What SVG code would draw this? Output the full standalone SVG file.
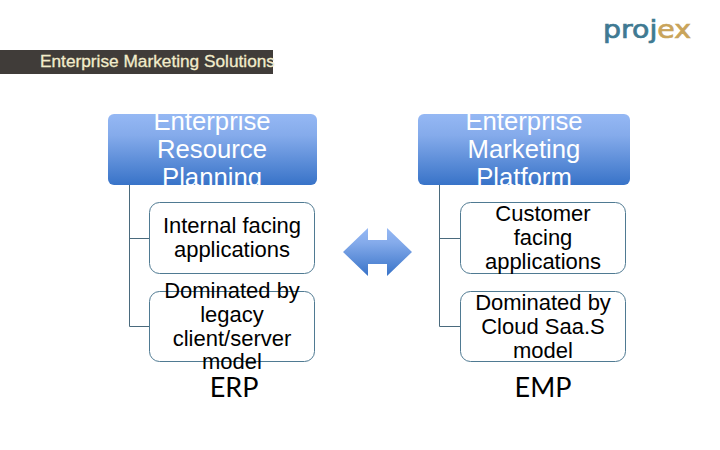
<svg xmlns="http://www.w3.org/2000/svg" width="720" height="450" viewBox="0 0 720 450">
<style>
text{font-family:"Liberation Sans",Arial,sans-serif;text-anchor:middle}
.head{font-size:25.700px;fill:#fff}
.body{font-size:22px;fill:#000}
.big{font-family:Lato,"Open Sans",sans-serif;font-size:27px;fill:#000}
.box{fill:#fff;stroke:#4f7a92;stroke-width:1}
.hbox{fill:url(#blue)}
.conn{fill:none;stroke:#4a6a7d;stroke-width:1}
</style>
<defs>
<linearGradient id="blue" x1="0" y1="0" x2="0" y2="1"><stop offset="0" stop-color="#95b8f4"/><stop offset="0.3" stop-color="#85abeb"/><stop offset="1" stop-color="#3873c8"/></linearGradient>
<clipPath id="c1"><rect x="108" y="114" width="209" height="71"/></clipPath>
<clipPath id="c2"><rect x="418" y="114" width="212" height="71"/></clipPath>
</defs>
<g id="title-bar">
<rect x="0" y="50" width="273" height="24" fill="#403c39"/>
<text x="40" y="66.500" style="text-anchor:start;font-size:17px;fill:#f2eccb;stroke:#f2eccb;stroke-width:.3" textLength="235" lengthAdjust="spacingAndGlyphs" transform="translate(0 0)">Enterprise Marketing Solutions</text>
</g>
<g id="logo">
<text x="603" y="38" style="text-anchor:start;font-family:'DejaVu Sans',sans-serif;font-size:24px;stroke-width:.7" textLength="88" lengthAdjust="spacingAndGlyphs"><tspan fill="#3f7a92" stroke="#3f7a92">proj</tspan><tspan fill="#c9a45a" stroke="#c9a45a">ex</tspan></text>
</g>
<g id="connectors">
<path class="conn" d="M129.500 185V326.500H150M129.500 238.500H150"/>
<path class="conn" d="M439.500 185V326.500H460M439.500 238.500H460"/>
</g>
<g id="erp-head">
<rect class="hbox" x="108" y="114" width="209" height="71" rx="6"/>
<g clip-path="url(#c1)"><text class="head" x="212" y="130">Enterprise</text><text class="head" x="212" y="158">Resource</text><text class="head" x="212" y="186">Planning</text></g>
</g>
<g id="emp-head">
<rect class="hbox" x="418" y="114" width="212" height="71" rx="6"/>
<g clip-path="url(#c2)"><text class="head" x="524" y="130">Enterprise</text><text class="head" x="524" y="158">Marketing</text><text class="head" x="524" y="186">Platform</text></g>
</g>
<g id="erp-internal">
<rect class="box" x="149.500" y="202.500" width="165" height="71" rx="10"/>
<text class="body" x="232" y="233">Internal facing</text><text class="body" x="232" y="257">applications</text>
</g>
<g id="erp-legacy">
<rect class="box" x="149.500" y="291.500" width="165" height="70" rx="10"/>
<text class="body" x="232" y="298">Dominated by</text><text class="body" x="232" y="322">legacy</text><text class="body" x="232" y="346">client/server</text><text class="body" x="232" y="369">model</text>
</g>
<g id="emp-customer">
<rect class="box" x="460.500" y="202.500" width="165" height="71" rx="10"/>
<text class="body" x="543" y="221">Customer</text><text class="body" x="543" y="245">facing</text><text class="body" x="543" y="269">applications</text>
</g>
<g id="emp-cloud">
<rect class="box" x="460.500" y="291.500" width="165" height="70" rx="10"/>
<text class="body" x="543" y="310">Dominated by</text><text class="body" x="543" y="334">Cloud Saa.S</text><text class="body" x="543" y="358">model</text>
</g>
<g id="double-arrow">
<polygon points="343,252 368,228 368,240 387,240 387,228 412,252 387,276 387,264 368,264 368,276" fill="url(#blue)"/>
</g>
<g id="erp-label"><text class="big" x="234" y="397">ERP</text></g>
<g id="emp-label"><text class="big" x="543" y="397">EMP</text></g>
</svg>
